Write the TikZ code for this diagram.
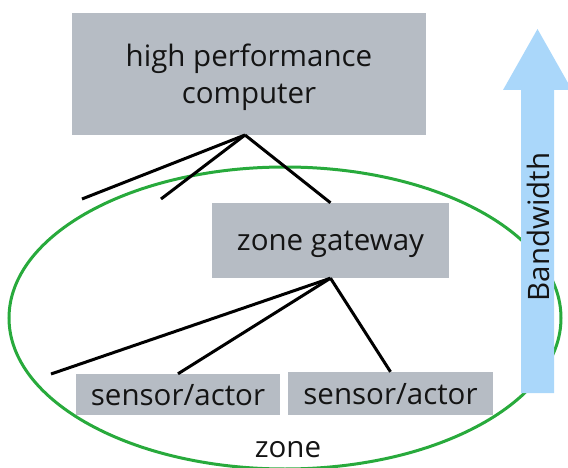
\documentclass[tikz,border=0pt]{standalone}
\usepackage{fontspec}
\setmainfont{Open Sans}
\definecolor{boxgray}{RGB}{182,188,196}
\definecolor{zonegreen}{RGB}{40,170,60}
\definecolor{bwblue}{RGB}{170,215,250}
\definecolor{txt}{RGB}{20,20,20}
\begin{document}
\begin{tikzpicture}[x=1pt,y=-1pt,
  box/.style={fill=boxgray, inner sep=0pt, align=center, text=txt, text depth=0pt,
    font=\fontsize{29.5}{37}\selectfont},
  link/.style={line width=3pt, black},
  lbl/.style={text=txt, inner sep=0pt, font=\fontsize{29.5}{37}\selectfont}]
\useasboundingbox (0,0) rectangle (568,468);
% zone ellipse
\draw[zonegreen, line width=3pt] (285,318) ellipse [x radius=276, y radius=151];
% boxes
\node[box, minimum width=354pt, minimum height=122pt] (hpc) at (249,74)
  {high performance\\computer};
\node[box, minimum width=237pt, minimum height=75pt] (gw) at (330.5,240.5)
  {zone gateway};
\node[box, minimum width=204pt, minimum height=41pt] (s1) at (178,394.5)
  {sensor/actor};
\node[box, minimum width=205pt, minimum height=43pt] (s2) at (390.5,393.5)
  {sensor/actor};
% connector points
\coordinate (hpcap) at (245,135);
\coordinate (h1) at (82,199);
\coordinate (h2) at (161,199);
\coordinate (g1) at (51,374);
\draw[link] (hpcap) -- (h1);
\draw[link] (hpcap) -- (h2);
\draw[link] (hpcap) -- (gw.north);
\draw[link] (gw.south) -- (g1);
\draw[link] (gw.south) -- (s1.north);
\draw[link] (gw.south) -- (s2.north);
% zone label
\node[lbl] (zonelbl) at (288,450) {zone};
% bandwidth arrow
\fill[bwblue] (521,393) -- (521,90) -- (503,90) -- (537.5,29) -- (572,90)
  -- (554,90) -- (554,393) -- cycle;
\node[lbl, rotate=90] (bw) at (538,227) {Bandwidth};
\end{tikzpicture}
\end{document}
